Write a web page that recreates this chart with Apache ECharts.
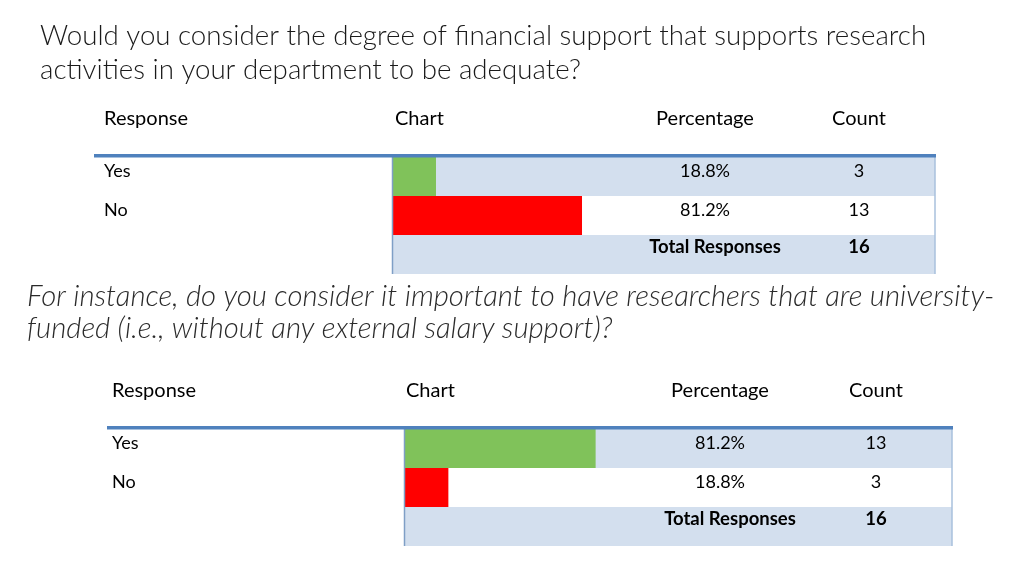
<!DOCTYPE html>
<html>
<head>
<meta charset="utf-8">
<script src="https://cdn.jsdelivr.net/npm/echarts@6/dist/echarts.min.js"></script>
<style>
html,body{margin:0;padding:0;background:#fff;}
#c{width:1024px;height:576px;}
</style>
</head>
<body>
<div id="c"></div>
<script>
// ---- data ----
const categories = ['Yes', 'No'];
const headers = ['Response', 'Chart', 'Percentage', 'Count'];
const totalLabel = 'Total Responses';

const q1Title = ['Would you consider the degree of financial support that supports research',
                 'activities in your department to be adequate?'];
const q1Percent = [18.8, 81.2];
const q1Count = [3, 13];
const q1Total = 16;

const q2Title = ['For instance, do you consider it important to have researchers that are university-',
                 'funded (i.e., without any external salary support)?'];
const q2Percent = [81.2, 18.8];
const q2Count = [13, 3];
const q2Total = 16;

const barColors = ['#80c25a', '#ff0000'];

// ---- layout ----
const FONT = 'Lato, "Open Sans", sans-serif';
const tables = [
  {pct: q1Percent, cnt: q1Count, total: q1Total, left: 94, right: 936, chartX: 392, chartW: 234,
   headY: 119, lineY: 154, rowTop: 157, rowH: 39, colRespX: 104, colChartX: 395, colPctX: 705, colCntX: 859, totalX: 715},
  {pct: q2Percent, cnt: q2Count, total: q2Total, left: 107, right: 953, chartX: 404, chartW: 236,
   headY: 391, lineY: 426, rowTop: 429, rowH: 39, colRespX: 112, colChartX: 406, colPctX: 720, colCntX: 876, totalX: 730}
];

const graphic = [];
function txt(x, y, s, opt) {
  graphic.push(Object.assign({type: 'text', x: x, y: y, z: 10,
    style: Object.assign({text: s, fill: '#000', font: '17px ' + FONT, textVerticalAlign: 'middle'}, opt || {})}));
}
function rect(x, y, w, h, fill, z) {
  graphic.push({type: 'rect', shape: {x: x, y: y, width: w, height: h}, style: {fill: fill}, z: z || 0, silent: true});
}
function line(x1, y1, x2, y2, stroke, w) {
  graphic.push({type: 'line', shape: {x1: x1, y1: y1, x2: x2, y2: y2}, style: {stroke: stroke, lineWidth: w}, z: 5, silent: true});
}

// titles
txt(40, 36, q1Title[0], {font: '300 27.7px ' + FONT, fill: '#1a1a1a'});
txt(40, 70, q1Title[1], {font: '300 27.7px ' + FONT, fill: '#1a1a1a'});
txt(27, 297, q2Title[0], {font: 'italic 300 29.3px ' + FONT, fill: '#2a2a2a'});
txt(27, 329, q2Title[1], {font: 'italic 300 29.3px ' + FONT, fill: '#2a2a2a'});

const grids = [], xAxes = [], yAxes = [], series = [];
tables.forEach(function (t, i) {
  const r = t.rowTop, h = t.rowH, rightW = t.right - 1 - t.chartX;
  // headers
  txt(t.colRespX, t.headY, headers[0], {font: '20px ' + FONT});
  txt(t.colChartX, t.headY, headers[1], {font: '20px ' + FONT});
  txt(t.colPctX, t.headY, headers[2], {font: '20px ' + FONT, textAlign: 'center'});
  txt(t.colCntX, t.headY, headers[3], {font: '20px ' + FONT, textAlign: 'center'});
  // table backgrounds
  rect(t.chartX, r, rightW, h, '#d3dfee');
  rect(t.chartX, r + 2 * h, rightW, h, '#d3dfee');
  rect(t.left, t.lineY, t.right - t.left, 3.5, '#4f81bd', 6);
  line(t.chartX + 0.5, r, t.chartX + 0.5, r + 3 * h, '#7f9fc6', 1.5);
  line(t.right - 1, r, t.right - 1, r + 3 * h, '#a9c0dc', 1.5);
  // row labels and values
  categories.forEach(function (c, k) {
    const y = r + k * h + h / 2 - 5;
    txt(t.colRespX, y, c, {font: '18px ' + FONT});
    txt(t.colPctX, y, t.pct[k].toFixed(1) + '%', {textAlign: 'center', font: '18px ' + FONT});
    txt(t.colCntX, y, String(t.cnt[k]), {textAlign: 'center', font: '18px ' + FONT});
  });
  txt(t.totalX, r + 2 * h + h / 2 - 7, totalLabel, {textAlign: 'center', font: 'bold 18.5px ' + FONT});
  txt(t.colCntX, r + 2 * h + h / 2 - 7, String(t.total), {textAlign: 'center', font: 'bold 18.5px ' + FONT});

  grids.push({left: t.chartX, top: r, width: t.chartW, height: 2 * h, containLabel: false});
  xAxes.push({gridIndex: i, type: 'value', min: 0, max: 100, show: false});
  yAxes.push({gridIndex: i, type: 'category', data: categories, inverse: true,
    axisLine: {show: false}, axisTick: {show: false}, splitLine: {show: false},
    axisLabel: {show: false}});
  series.push({type: 'bar', xAxisIndex: i, yAxisIndex: i, barWidth: '100%', z: 3, silent: true,
    data: t.pct.map(function (v, k) { return {value: v, itemStyle: {color: barColors[k]}}; })});
});

const chart = echarts.init(document.getElementById('c'));
chart.setOption({
  animation: false,
  backgroundColor: '#fff',
  grid: grids, xAxis: xAxes, yAxis: yAxes, series: series,
  graphic: graphic
});
</script>
</body>
</html>
